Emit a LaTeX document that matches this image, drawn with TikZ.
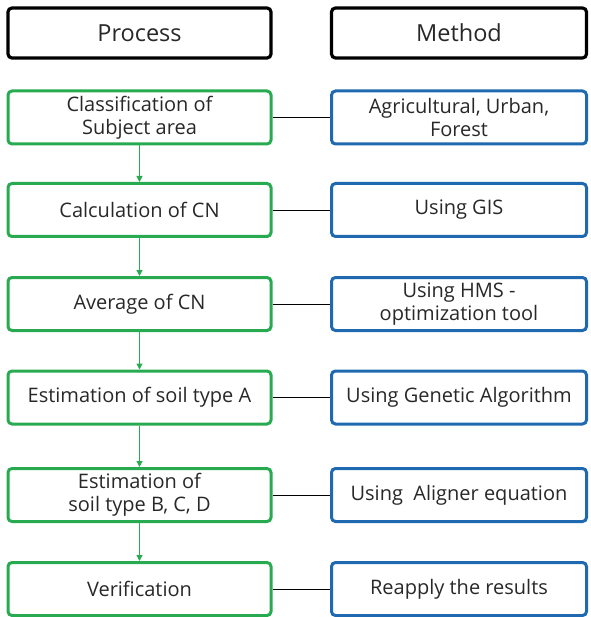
\documentclass[tikz,border=0pt]{standalone}
\usepackage{fontspec}
\setmainfont{Open Sans}
\usetikzlibrary{arrows.meta}
\definecolor{pgreen}{RGB}{40,170,80}
\definecolor{mblue}{RGB}{30,105,175}
\definecolor{txt}{RGB}{40,40,40}
\begin{document}
\begin{tikzpicture}[x=1pt,y=-1pt,
  hdr/.style={draw=black,line width=3.2pt,rounded corners=4pt,minimum height=50pt,text=txt,font=\fontsize{23.5}{26}\selectfont},
  pbox/.style={draw=pgreen,line width=3pt,rounded corners=4pt,minimum width=263pt,minimum height=53pt,inner sep=1pt,align=center,text=txt,font=\fontsize{20}{23}\selectfont},
  mbox/.style={draw=mblue,line width=3pt,rounded corners=4pt,minimum width=255pt,minimum height=53pt,inner sep=1pt,align=center,text=txt,font=\fontsize{20}{23}\selectfont},
  flow/.style={draw=pgreen,line width=1pt,-{Triangle[length=6pt,width=6pt]}},
  link/.style={draw=black,line width=0.9pt}]
\useasboundingbox (0,0) rectangle (590,617);
\node[hdr,minimum width=263pt] (hp) at (139.5,33) {Process};
\node[hdr,minimum width=255pt] (hm) at (459,33) {Method};
\node[pbox] (p1) at (139.5,117.5) {Classification of\\Subject area};
\node[pbox] (p2) at (139.5,210) {Calculation of CN};
\node[pbox] (p3) at (139.5,304) {Average of CN};
\node[pbox] (p4) at (139.5,397.5) {Estimation of soil type A};
\node[pbox] (p5) at (139.5,495) {Estimation of\\soil type B, C, D};
\node[pbox] (p6) at (139.5,589) {Verification};
\node[mbox] (m1) at (459,117.5) {Agricultural, Urban,\\Forest};
\node[mbox] (m2) at (459,210) {Using GIS};
\node[mbox] (m3) at (459,304) {Using HMS -\\optimization tool};
\node[mbox] (m4) at (459,397.5) {Using Genetic Algorithm};
\node[mbox] (m5) at (459,495) {Using~~Aligner equation};
\node[mbox] (m6) at (459,589) {Reapply the results};
\foreach \a/\b in {p1/p2,p2/p3,p3/p4,p4/p5,p5/p6} \draw[flow] (\a) -- (\b);
\foreach \i in {1,...,6} \draw[link] (p\i) -- (m\i);
\end{tikzpicture}
\end{document}
